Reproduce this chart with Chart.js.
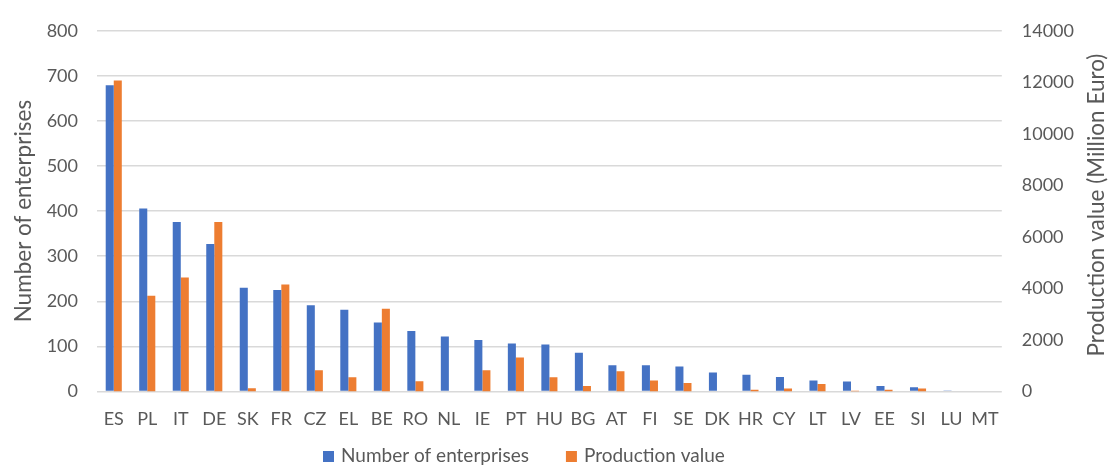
<!DOCTYPE html>
<html>
<head>
<meta charset="utf-8">
<script src="https://cdn.jsdelivr.net/npm/chart.js@4/dist/chart.umd.min.js"></script>
<style>
  html, body { margin: 0; padding: 0; background: #fff; }
  #wrap { width: 1110px; height: 466px; }
</style>
</head>
<body>
<div id="wrap"><canvas id="myChart"></canvas></div>
<script>
const countries = ["ES", "PL", "IT", "DE", "SK", "FR", "CZ", "EL", "BE", "RO", "NL", "IE", "PT", "HU",
  "BG", "AT", "FI", "SE", "DK", "HR", "CY", "LT", "LV", "EE", "SI", "LU", "MT"];
const enterprises = [679, 406, 376, 327, 230, 225, 191, 181, 153, 134, 122, 114, 106, 104,
  86, 58, 58, 55, 42, 37, 32, 24, 22, 12, 9, 2, 0];
const production = [12070, 3710, 4420, 6580, 120, 4150, 820, 550, 3210, 390, 0, 820, 1320, 550,
  205, 780, 425, 330, 0, 60, 115, 290, 25, 60, 115, 0, 0];

const textColor = "#595959";
const fontFamily = "Lato, 'Open Sans', sans-serif";
Chart.defaults.font.family = fontFamily;
Chart.defaults.color = textColor;

// right axis title (reads bottom to top like the left one) and a spaced-out legend
const extras = {
  id: "extras",
  afterDraw(chart) {
    const { ctx, chartArea } = chart;
    ctx.save();
    ctx.fillStyle = textColor;
    ctx.font = "22.5px " + fontFamily;
    ctx.textAlign = "center";
    ctx.textBaseline = "middle";
    ctx.translate(1097, (chartArea.top + chartArea.bottom) / 2 - 6);
    ctx.rotate(-Math.PI / 2);
    ctx.fillText("Production value (Million Euro)", 0, 0);
    ctx.restore();

    ctx.save();
    ctx.font = "19px " + fontFamily;
    ctx.textBaseline = "middle";
    const y = 456;
    let x = 323;
    chart.data.datasets.forEach((ds) => {
      ctx.fillStyle = ds.backgroundColor;
      ctx.fillRect(x, y - 5, 11, 11);
      ctx.fillStyle = textColor;
      ctx.fillText(ds.label, x + 18, y);
      x += 18 + ctx.measureText(ds.label).width + 37;
    });
    ctx.restore();
  },
};

const ctx = document.getElementById("myChart").getContext("2d");
new Chart(ctx, {
  type: "bar",
  data: {
    labels: countries,
    datasets: [
      {
        label: "Number of enterprises",
        data: enterprises,
        backgroundColor: "#4472C4",
        yAxisID: "y",
        categoryPercentage: 0.48,
        barPercentage: 1.0,
      },
      {
        label: "Production value",
        data: production,
        backgroundColor: "#ED7D31",
        yAxisID: "y1",
        categoryPercentage: 0.48,
        barPercentage: 1.0,
      },
    ],
  },
  options: {
    responsive: true,
    maintainAspectRatio: false,
    animation: false,
    layout: { padding: { top: 13, left: 0, right: 16, bottom: 19 } },
    plugins: {
      tooltip: { enabled: false },
      legend: { display: false },
    },
    scales: {
      x: {
        grid: { display: false, drawTicks: false },
        border: { display: false },
        ticks: { font: { size: 18 }, padding: 17, autoSkip: false, maxRotation: 0, minRotation: 0 },
      },
      y: {
        position: "left",
        min: 0,
        max: 800,
        afterFit: (scale) => { scale.width = 97; },
        ticks: { stepSize: 100, font: { size: 18 }, padding: 19 },
        grid: { color: "#d9d9d9", lineWidth: 1.5, drawTicks: false },
        border: { display: false },
        title: { display: true, text: "Number of enterprises", font: { size: 22.5 }, padding: { top: 10, bottom: 0 } },
      },
      y1: {
        position: "right",
        min: 0,
        max: 14000,
        ticks: { stepSize: 2000, font: { size: 18 }, padding: 20, format: { useGrouping: false } },
        grid: { display: false, drawTicks: false },
        border: { display: false },
      },
    },
  },
  plugins: [extras],
});
</script>
</body>
</html>
